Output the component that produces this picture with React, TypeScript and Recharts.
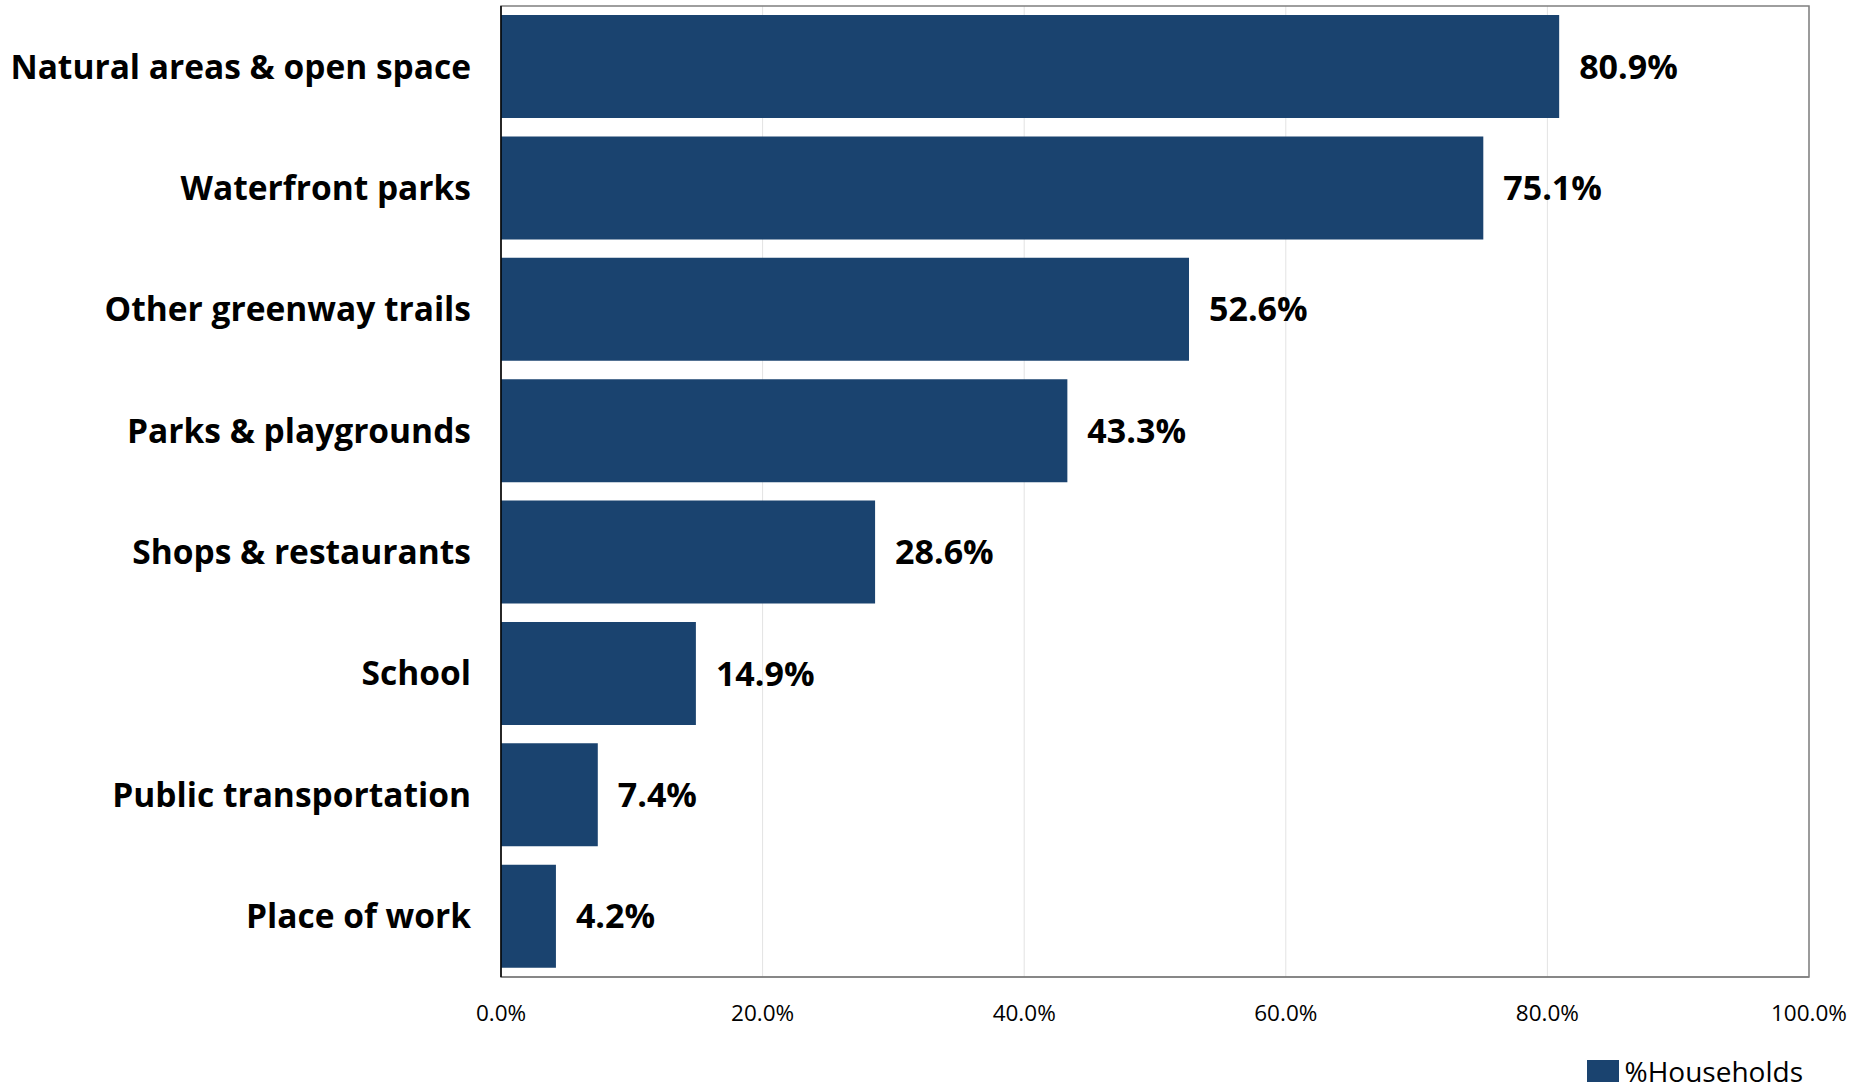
import { BarChart, Bar, XAxis, YAxis, CartesianGrid, LabelList, Legend, ReferenceArea } from 'recharts'

const categories = [
  'Natural areas & open space',
  'Waterfront parks',
  'Other greenway trails',
  'Parks & playgrounds',
  'Shops & restaurants',
  'School',
  'Public transportation',
  'Place of work',
]
const households = [80.9, 75.1, 52.6, 43.3, 28.6, 14.9, 7.4, 4.2]
const xTicks = [0, 20, 40, 60, 80, 100]

const BAR_COLOR = '#1A436F'
const FONT = '"Open Sans", "Noto Sans", sans-serif'

const data = categories.map((name, i) => ({ name, value: households[i] }))

const pct = (v: number | string) => `${Number(v).toFixed(1)}%`

// legend: a plain square swatch and the series name, as in the original
function LegendBox(props: any) {
  const items = props.payload || []
  return (
    <div
      style={{
        display: 'flex',
        justifyContent: 'flex-end',
        alignItems: 'flex-end',
        height: 44,
        paddingRight: 6,
        paddingBottom: 6,
        boxSizing: 'border-box',
      }}
    >
      {items.map((it: any) => (
        <div key={it.value} style={{ display: 'flex', alignItems: 'center' }}>
          <span style={{ display: 'inline-block', width: 32, height: 22, background: it.color, marginRight: 6 }} />
          <span style={{ color: '#000', fontSize: 28, fontFamily: FONT, lineHeight: '28px' }}>{it.value}</span>
        </div>
      ))}
    </div>
  )
}

export default function App() {
  return (
    <div style={{ position: 'absolute', left: 0, top: 0, background: '#fff' }}>
      <BarChart
        width={1872}
        height={1091}
        data={data}
        layout="vertical"
        margin={{ top: 6, right: 63, bottom: 0, left: 0 }}
        barCategoryGap="7.5%"
      >
        <CartesianGrid horizontal={false} stroke="#e3e3e3" />
        <ReferenceArea x1={0} x2={100} fill="none" stroke="#7f7f7f" strokeWidth={1.5} ifOverflow="visible" />
        <XAxis
          type="number"
          domain={[0, 100]}
          ticks={xTicks}
          tickFormatter={pct}
          tickLine={false}
          tickSize={0}
          tickMargin={28}
          height={70}
          axisLine={{ stroke: '#7f7f7f', strokeWidth: 1.5 }}
          tick={{ fill: '#000', fontSize: 22.5, fontFamily: FONT }}
        />
        <YAxis
          type="category"
          dataKey="name"
          width={501}
          tickLine={false}
          tickSize={0}
          tickMargin={30}
          axisLine={{ stroke: '#000', strokeWidth: 1.5 }}
          tick={{ fill: '#000', fontSize: 33.5, fontWeight: 700, fontFamily: FONT }}
          interval={0}
        />
        <Legend verticalAlign="bottom" align="right" height={44} content={<LegendBox />} />
        <Bar dataKey="value" name="%Households" fill={BAR_COLOR} isAnimationActive={false}>
          <LabelList
            dataKey="value"
            position="right"
            offset={20}
            formatter={pct}
            style={{ fill: '#000', fontSize: 34, fontWeight: 700, fontFamily: FONT }}
          />
        </Bar>
      </BarChart>
    </div>
  )
}
